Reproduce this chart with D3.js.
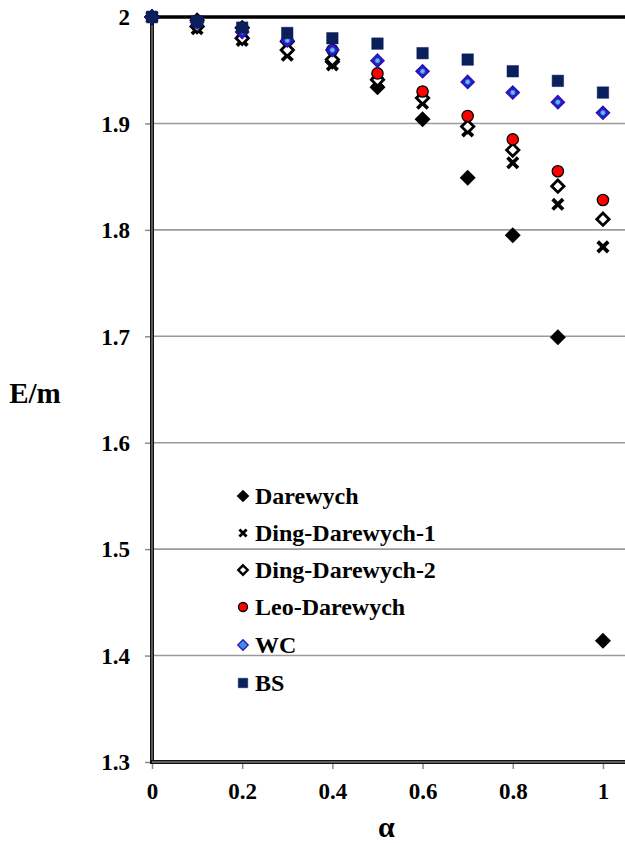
<!DOCTYPE html>
<html>
<head>
<meta charset="utf-8">
<script src="https://cdn.jsdelivr.net/npm/d3@7"></script>
</head>
<body style="margin:0">
<svg id="chart" width="625" height="843"></svg>
<script>
// Coupling parameter values
const alpha = [0, 0.1, 0.2, 0.3, 0.4, 0.5, 0.6, 0.7, 0.8, 0.9, 1.0];

// E/m for each approach
const darewych      = [2, 1.997, 1.990, 1.977, 1.958, 1.934, 1.904, 1.849, 1.795, 1.699, 1.414];
const dingDarewych1 = [2, 1.989, 1.978, 1.964, 1.955, 1.939, 1.919, 1.893, 1.863, 1.824, 1.784];
const dingDarewych2 = [2, 1.991, 1.980, 1.969, 1.960, 1.941, 1.924, 1.897, 1.875, 1.841, 1.810];
const leoDarewych   = [2, 1.995, 1.987, 1.978, 1.969, 1.947, 1.930, 1.907, 1.885, 1.855, 1.828];
const wc            = [2, 1.995, 1.986, 1.978, 1.969, 1.959, 1.949, 1.939, 1.929, 1.920, 1.910];
const bs            = [2, 1.996, 1.990, 1.985, 1.980, 1.975, 1.966, 1.960, 1.949, 1.940, 1.929];

const seriesNames = ["Darewych", "Ding-Darewych-1", "Ding-Darewych-2", "Leo-Darewych", "WC", "BS"];

const xTicks = [0, 0.2, 0.4, 0.6, 0.8, 1];
const xTickLabels = ["0", "0.2", "0.4", "0.6", "0.8", "1"];
const yTicks = [1.3, 1.4, 1.5, 1.6, 1.7, 1.8, 1.9, 2];
const yTickLabels = ["1.3", "1.4", "1.5", "1.6", "1.7", "1.8", "1.9", "2"];

const FONT = "Liberation Serif, Times New Roman, Tinos, DejaVu Serif, Noto Serif, serif";

// Bold serif face for every text element
function serif(sel, size) {
  return sel.attr("font-family", FONT).attr("font-weight", "bold").attr("font-size", size);
}

const svg = d3.select("#chart");

const x = d3.scaleLinear().domain([0, 1.05]).range([152, 625.5]);
const y = d3.scaleLinear().domain([1.3, 2]).range([762, 17]);

// Diagonal cross symbol drawn as two strokes
const symbolX = {
  draw(ctx, size) {
    const r = Math.sqrt(size) / 2;
    ctx.moveTo(-r, -r); ctx.lineTo(r, r);
    ctx.moveTo(r, -r); ctx.lineTo(-r, r);
  }
};
// Square rotated 45 degrees (equal-sided diamond)
const symbolRhomb = {
  draw(ctx, size) {
    const r = Math.sqrt(size / 2);
    ctx.moveTo(0, -r); ctx.lineTo(r, 0); ctx.lineTo(0, r); ctx.lineTo(-r, 0); ctx.closePath();
  }
};

const defs = svg.append("defs");
const grad = defs.append("radialGradient").attr("id", "wcFill");
grad.append("stop").attr("offset", "0%").attr("stop-color", "#6fd0ec");
grad.append("stop").attr("offset", "28%").attr("stop-color", "#4aa8e4");
grad.append("stop").attr("offset", "45%").attr("stop-color", "#2a20c4");
grad.append("stop").attr("offset", "100%").attr("stop-color", "#2a10b8");

const styles = [
  { type: symbolRhomb,     size: 128, fill: "#000", stroke: "none", sw: 0,   lsize: 80 },
  { type: symbolX,         size: 110, fill: "none", stroke: "#000", sw: 3.7, lsize: 52 },
  { type: symbolRhomb,     size: 76,  fill: "#fff", stroke: "#000", sw: 2.8, lsize: 44 },
  { type: d3.symbolCircle, size: 100, fill: "#ff0000", stroke: "#000", sw: 1.3, lsize: 64 },
  { type: symbolRhomb,     size: 90,  fill: "url(#wcFill)", stroke: "#2a10b8", sw: 1.2, lsize: 56 },
  { type: d3.symbolSquare, size: 132, fill: "#0b1f5c", stroke: "#0b1f5c", sw: 0.5, lsize: 90 }
];

const allSeries = [darewych, dingDarewych1, dingDarewych2, leoDarewych, wc, bs];

// Horizontal gridlines
svg.append("g")
  .selectAll("line")
  .data(yTicks.filter(v => v > 1.3 && v < 2))
  .join("line")
  .attr("x1", x(0)).attr("x2", 625)
  .attr("y1", d => y(d)).attr("y2", d => y(d))
  .attr("stroke", "#9a9a9a").attr("stroke-width", 1.6);

// Y axis
const yAxis = d3.axisLeft(y).tickValues(yTicks)
  .tickFormat((d, i) => yTickLabels[i]).tickSize(7).tickPadding(15);
const gy = svg.append("g").attr("transform", `translate(${x(0)},0)`).call(yAxis);
gy.attr("font-family", FONT).attr("font-size", 23);
gy.select(".domain").remove();
gy.selectAll(".tick line").attr("stroke", "#8a8a8a").attr("stroke-width", 1.5);
serif(gy.selectAll(".tick text"), 23).attr("fill", "#000").attr("dy", "0.34em");

// X axis
const xAxis = d3.axisBottom(x).tickValues(xTicks)
  .tickFormat((d, i) => xTickLabels[i]).tickSize(7).tickPadding(13);
const gx = svg.append("g").attr("transform", `translate(0,${y(1.3)})`).call(xAxis);
gx.attr("font-family", FONT).attr("font-size", 23);
gx.select(".domain").remove();
gx.selectAll(".tick line").attr("stroke", "#8a8a8a").attr("stroke-width", 1.5);
serif(gx.selectAll(".tick text"), 23).attr("fill", "#000").attr("dy", "0.72em");

// Axis frame lines
const frame = svg.append("g");
frame.append("line").attr("x1", x(0)).attr("x2", x(0)).attr("y1", y(2)).attr("y2", y(1.3) + 1.5)
  .attr("stroke", "#111").attr("stroke-width", 4);
frame.append("line").attr("x1", x(0)).attr("x2", x(0)).attr("y1", y(2)).attr("y2", y(1.3))
  .attr("stroke", "#777").attr("stroke-width", 1.4);
frame.append("line").attr("x1", x(0) - 2).attr("x2", 625).attr("y1", y(1.3)).attr("y2", y(1.3))
  .attr("stroke", "#111").attr("stroke-width", 4);
frame.append("line").attr("x1", x(0)).attr("x2", 625).attr("y1", y(1.3)).attr("y2", y(1.3))
  .attr("stroke", "#777").attr("stroke-width", 1.4);
// Reference line at E/m = 2
frame.append("line").attr("x1", x(0)).attr("x2", 625).attr("y1", y(2)).attr("y2", y(2))
  .attr("stroke", "#000").attr("stroke-width", 3.5);

// Data markers
allSeries.forEach((vals, si) => {
  const st = styles[si];
  svg.append("g")
    .selectAll("path")
    .data(alpha.map((a, i) => ({ a, v: vals[i] })))
    .join("path")
    .attr("transform", d => `translate(${x(d.a)},${y(d.v)})`)
    .attr("d", d3.symbol().type(st.type).size(st.size))
    .attr("fill", st.fill)
    .attr("stroke", st.stroke)
    .attr("stroke-width", st.sw);
});

// Legend
const legendY = [496, 533, 570, 607, 645, 683];
const legend = svg.append("g");
seriesNames.forEach((name, i) => {
  const st = styles[i];
  legend.append("path")
    .attr("transform", `translate(243,${legendY[i]})`)
    .attr("d", d3.symbol().type(st.type).size(st.lsize))
    .attr("fill", i === 4 ? "#3a90e0" : st.fill)
    .attr("stroke", st.stroke)
    .attr("stroke-width", i === 1 ? 2.8 : (i === 2 ? 2.4 : st.sw));
  serif(legend.append("text"), 24)
    .attr("x", 255).attr("y", legendY[i])
    .attr("dy", "0.35em")
    .attr("fill", "#000")
    .text(name);
});

// Axis titles
serif(svg.append("text"), 29).attr("x", 35).attr("y", 403).attr("text-anchor", "middle")
  .text("E/m");
serif(svg.append("text"), 30).attr("x", x(0.52)).attr("y", 837).attr("text-anchor", "middle")
  .text("α");
</script>
</body>
</html>
